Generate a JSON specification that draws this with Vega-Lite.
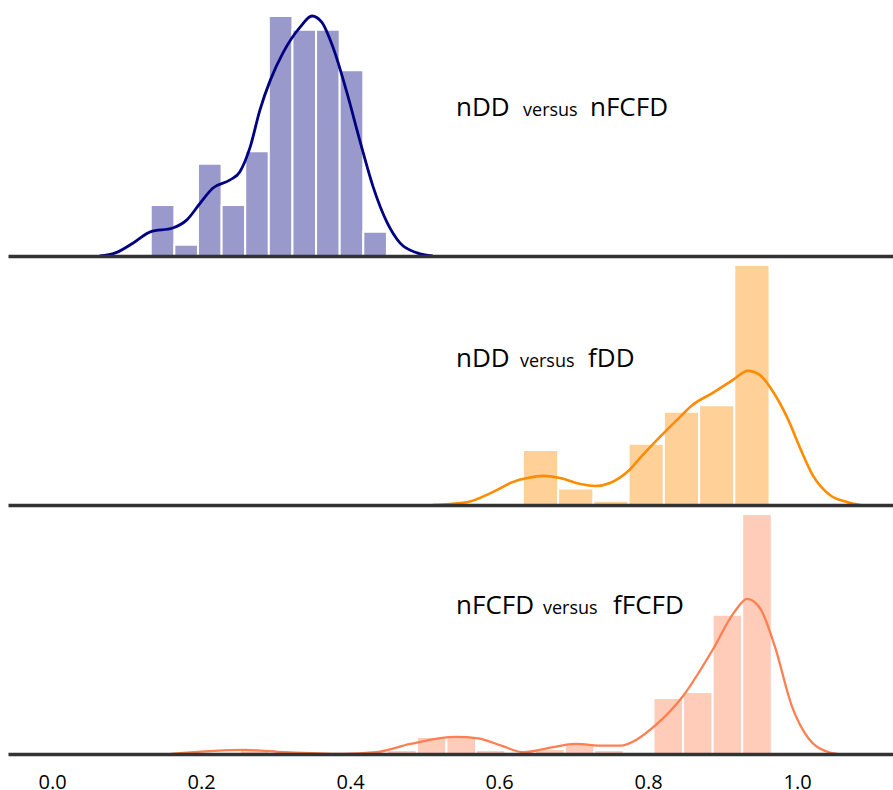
{
  "$schema": "https://vega.github.io/schema/vega-lite/v6.json",
  "padding": {"left": 8, "top": 7, "right": 0, "bottom": 0},
  "background": "white",
  "spacing": 0,
  "bounds": "flush",
  "config": {"view": {"stroke": null}, "font": "Open Sans"},
  "datasets": {
    "h1": [
      {"x0": 0.1325, "x1": 0.1642, "d": 1.33},
      {"x0": 0.1642, "x1": 0.1959, "d": 0.29},
      {"x0": 0.1959, "x1": 0.2276, "d": 2.40},
      {"x0": 0.2276, "x1": 0.2593, "d": 1.33},
      {"x0": 0.2593, "x1": 0.2910, "d": 2.73},
      {"x0": 0.2910, "x1": 0.3227, "d": 6.25},
      {"x0": 0.3227, "x1": 0.3544, "d": 5.89},
      {"x0": 0.3544, "x1": 0.3861, "d": 5.89},
      {"x0": 0.3861, "x1": 0.4178, "d": 4.84},
      {"x0": 0.4178, "x1": 0.4495, "d": 0.63}
    ],
    "k1": [
      {"x": 0.064, "d": 0}, {"x": 0.085, "d": 0.08}, {"x": 0.109, "d": 0.34}, {"x": 0.132, "d": 0.63},
      {"x": 0.162, "d": 0.73}, {"x": 0.181, "d": 0.94}, {"x": 0.199, "d": 1.38}, {"x": 0.216, "d": 1.77},
      {"x": 0.239, "d": 1.98}, {"x": 0.252, "d": 2.19}, {"x": 0.266, "d": 2.84}, {"x": 0.279, "d": 3.80},
      {"x": 0.293, "d": 4.58}, {"x": 0.310, "d": 5.29}, {"x": 0.333, "d": 5.96}, {"x": 0.349, "d": 6.25},
      {"x": 0.362, "d": 6.09}, {"x": 0.377, "d": 5.44}, {"x": 0.396, "d": 4.24}, {"x": 0.413, "d": 3.02},
      {"x": 0.431, "d": 1.80}, {"x": 0.450, "d": 0.86}, {"x": 0.467, "d": 0.34}, {"x": 0.490, "d": 0.08},
      {"x": 0.511, "d": 0}
    ],
    "h2": [
      {"x0": 0.632, "x1": 0.6793, "d": 2.02},
      {"x0": 0.6793, "x1": 0.7266, "d": 0.61},
      {"x0": 0.7266, "x1": 0.7739, "d": 0.16},
      {"x0": 0.7739, "x1": 0.8212, "d": 2.25},
      {"x0": 0.8212, "x1": 0.8685, "d": 3.43},
      {"x0": 0.8685, "x1": 0.9158, "d": 3.67},
      {"x0": 0.9158, "x1": 0.9631, "d": 8.82}
    ],
    "k2": [
      {"x": 0.511, "d": 0}, {"x": 0.557, "d": 0.10}, {"x": 0.592, "d": 0.48}, {"x": 0.619, "d": 0.85},
      {"x": 0.638, "d": 0.99}, {"x": 0.659, "d": 1.07}, {"x": 0.682, "d": 0.99}, {"x": 0.709, "d": 0.77},
      {"x": 0.729, "d": 0.70}, {"x": 0.749, "d": 0.81}, {"x": 0.772, "d": 1.21}, {"x": 0.793, "d": 1.84},
      {"x": 0.816, "d": 2.50}, {"x": 0.843, "d": 3.24}, {"x": 0.860, "d": 3.68}, {"x": 0.887, "d": 4.12},
      {"x": 0.914, "d": 4.60}, {"x": 0.934, "d": 4.93}, {"x": 0.950, "d": 4.78}, {"x": 0.968, "d": 4.15},
      {"x": 0.987, "d": 3.20}, {"x": 1.004, "d": 2.10}, {"x": 1.021, "d": 1.10}, {"x": 1.044, "d": 0.37},
      {"x": 1.067, "d": 0.11}, {"x": 1.085, "d": 0}
    ],
    "h3": [
      {"x0": 0.252, "x1": 0.2917, "d": 0.18},
      {"x0": 0.450, "x1": 0.4897, "d": 0.18},
      {"x0": 0.4897, "x1": 0.5294, "d": 0.76},
      {"x0": 0.5294, "x1": 0.5691, "d": 0.76},
      {"x0": 0.5691, "x1": 0.6088, "d": 0.18},
      {"x0": 0.6088, "x1": 0.6485, "d": 0.09},
      {"x0": 0.6485, "x1": 0.6882, "d": 0.22},
      {"x0": 0.6882, "x1": 0.7279, "d": 0.49},
      {"x0": 0.7279, "x1": 0.7676, "d": 0.18},
      {"x0": 0.8073, "x1": 0.8470, "d": 2.50},
      {"x0": 0.8470, "x1": 0.8867, "d": 2.77},
      {"x0": 0.8867, "x1": 0.9264, "d": 6.21},
      {"x0": 0.9264, "x1": 0.9661, "d": 10.71}
    ],
    "k3": [
      {"x": 0.160, "d": 0}, {"x": 0.259, "d": 0.18}, {"x": 0.312, "d": 0.08}, {"x": 0.389, "d": 0},
      {"x": 0.435, "d": 0.08}, {"x": 0.481, "d": 0.45}, {"x": 0.542, "d": 0.76}, {"x": 0.572, "d": 0.70},
      {"x": 0.603, "d": 0.37}, {"x": 0.633, "d": 0.08}, {"x": 0.671, "d": 0.30}, {"x": 0.702, "d": 0.45},
      {"x": 0.741, "d": 0.37}, {"x": 0.763, "d": 0.37}, {"x": 0.786, "d": 0.67}, {"x": 0.809, "d": 1.25},
      {"x": 0.847, "d": 2.59}, {"x": 0.885, "d": 4.55}, {"x": 0.916, "d": 6.34}, {"x": 0.933, "d": 6.92},
      {"x": 0.951, "d": 6.47}, {"x": 0.970, "d": 4.82}, {"x": 0.993, "d": 2.14}, {"x": 1.016, "d": 0.67},
      {"x": 1.039, "d": 0.12}, {"x": 1.054, "d": 0}
    ]
  },
  "vconcat": [
    {
      "width": 885,
      "height": 249,
      "layer": [
        {
          "data": {"name": "h1"},
          "mark": {"type": "rect", "fill": "#9999cc", "stroke": "white", "strokeWidth": 2},
          "encoding": {
            "x": {"field": "x0", "type": "quantitative", "scale": {"domain": [-0.0591, 1.1288], "nice": false, "zero": false},
                  "axis": {"labels": false, "ticks": false, "grid": false, "title": null, "domain": true, "domainColor": "#333333", "domainWidth": 3.5, "zindex": 1}},
            "x2": {"field": "x1"},
            "y": {"field": "d", "type": "quantitative", "scale": {"domain": [0, 6.484], "nice": false}, "axis": null},
            "y2": {"datum": 0}
          }
        },
        {
          "data": {"name": "k1"},
          "mark": {"type": "line", "color": "#000080", "strokeWidth": 2.8, "interpolate": "monotone"},
          "encoding": {
            "x": {"field": "x", "type": "quantitative"},
            "y": {"field": "d", "type": "quantitative"}
          }
        },
        {
          "data": {"values": [{"t": "nDD"}]},
          "mark": {"type": "text", "align": "left", "baseline": "alphabetic", "fontSize": 26, "color": "black"},
          "encoding": {"x": {"datum": 0.5423}, "y": {"datum": 3.646}, "text": {"field": "t"}}
        },
        {
          "data": {"values": [{"t": "versus"}]},
          "mark": {"type": "text", "align": "left", "baseline": "alphabetic", "fontSize": 18, "color": "black"},
          "encoding": {"x": {"datum": 0.6322}, "y": {"datum": 3.646}, "text": {"field": "t"}}
        },
        {
          "data": {"values": [{"t": "nFCFD"}]},
          "mark": {"type": "text", "align": "left", "baseline": "alphabetic", "fontSize": 26, "color": "black"},
          "encoding": {"x": {"datum": 0.7221}, "y": {"datum": 3.646}, "text": {"field": "t"}}
        }
      ]
    },
    {
      "width": 885,
      "height": 249,
      "layer": [
        {
          "data": {"name": "h2"},
          "mark": {"type": "rect", "fill": "#ffd199", "stroke": "white", "strokeWidth": 2},
          "encoding": {
            "x": {"field": "x0", "type": "quantitative", "scale": {"domain": [-0.0591, 1.1288], "nice": false, "zero": false},
                  "axis": {"labels": false, "ticks": false, "grid": false, "title": null, "domain": true, "domainColor": "#333333", "domainWidth": 3.5, "zindex": 1}},
            "x2": {"field": "x1"},
            "y": {"field": "d", "type": "quantitative", "scale": {"domain": [0, 9.15], "nice": false}, "axis": null},
            "y2": {"datum": 0}
          }
        },
        {
          "data": {"name": "k2"},
          "mark": {"type": "line", "color": "#ff8c00", "strokeWidth": 2.6, "interpolate": "monotone"},
          "encoding": {
            "x": {"field": "x", "type": "quantitative"},
            "y": {"field": "d", "type": "quantitative"}
          }
        },
        {
          "data": {"values": [{"t": "nDD"}]},
          "mark": {"type": "text", "align": "left", "baseline": "alphabetic", "fontSize": 26, "color": "black"},
          "encoding": {"x": {"datum": 0.5423}, "y": {"datum": 5.07}, "text": {"field": "t"}}
        },
        {
          "data": {"values": [{"t": "versus"}]},
          "mark": {"type": "text", "align": "left", "baseline": "alphabetic", "fontSize": 18, "color": "black"},
          "encoding": {"x": {"datum": 0.628}, "y": {"datum": 5.07}, "text": {"field": "t"}}
        },
        {
          "data": {"values": [{"t": "fDD"}]},
          "mark": {"type": "text", "align": "left", "baseline": "alphabetic", "fontSize": 26, "color": "black"},
          "encoding": {"x": {"datum": 0.7195}, "y": {"datum": 5.07}, "text": {"field": "t"}}
        }
      ]
    },
    {
      "width": 885,
      "height": 249,
      "layer": [
        {
          "data": {"name": "h3"},
          "mark": {"type": "rect", "fill": "#ffccb9", "stroke": "white", "strokeWidth": 2},
          "encoding": {
            "x": {"field": "x0", "type": "quantitative", "scale": {"domain": [-0.0591, 1.1288], "nice": false, "zero": false},
                  "axis": {"values": [0, 0.2, 0.4, 0.6, 0.8, 1.0], "format": ".1f", "labels": true, "ticks": false, "grid": false, "title": null,
                           "domain": true, "domainColor": "#333333", "domainWidth": 3.5, "zindex": 1,
                           "labelFont": "Open Sans", "labelFontSize": 20, "labelColor": "black", "labelPadding": 18, "labelFlush": false}},
            "x2": {"field": "x1"},
            "y": {"field": "d", "type": "quantitative", "scale": {"domain": [0, 11.11], "nice": false}, "axis": null},
            "y2": {"datum": 0}
          }
        },
        {
          "data": {"name": "k3"},
          "mark": {"type": "line", "color": "#ff7f50", "strokeWidth": 2.3, "interpolate": "monotone"},
          "encoding": {
            "x": {"field": "x", "type": "quantitative"},
            "y": {"field": "d", "type": "quantitative"}
          }
        },
        {
          "data": {"values": [{"t": "nFCFD"}]},
          "mark": {"type": "text", "align": "left", "baseline": "alphabetic", "fontSize": 26, "color": "black"},
          "encoding": {"x": {"datum": 0.5423}, "y": {"datum": 6.25}, "text": {"field": "t"}}
        },
        {
          "data": {"values": [{"t": "versus"}]},
          "mark": {"type": "text", "align": "left", "baseline": "alphabetic", "fontSize": 18, "color": "black"},
          "encoding": {"x": {"datum": 0.659}, "y": {"datum": 6.25}, "text": {"field": "t"}}
        },
        {
          "data": {"values": [{"t": "fFCFD"}]},
          "mark": {"type": "text", "align": "left", "baseline": "alphabetic", "fontSize": 26, "color": "black"},
          "encoding": {"x": {"datum": 0.753}, "y": {"datum": 6.25}, "text": {"field": "t"}}
        }
      ]
    }
  ]
}
